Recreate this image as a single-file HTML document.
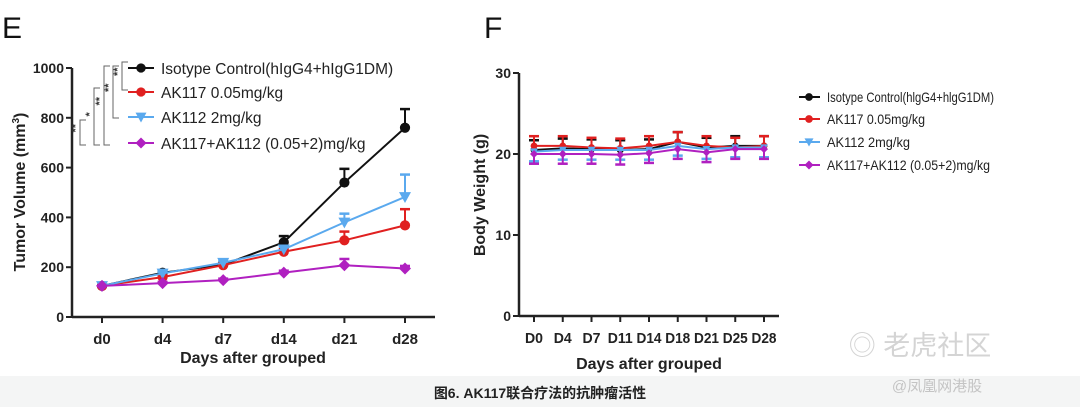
<!DOCTYPE html>
<html><head><meta charset="utf-8"><style>
body{margin:0;width:1080px;height:407px;overflow:hidden;background:#fff;font-family:"Liberation Sans","Noto Sans CJK SC",sans-serif}
</style></head><body>
<svg id="s" width="1080" height="407" xmlns="http://www.w3.org/2000/svg" font-family="Liberation Sans, Noto Sans CJK SC, sans-serif">
<rect x="0" y="376" width="1080" height="31" fill="#f4f5f5"/>
<text x="540" y="398" text-anchor="middle" font-size="14" font-weight="bold" fill="#222">图6. AK117联合疗法的抗肿瘤活性</text>
<text x="2" y="38" font-size="30" fill="#111">E</text>
<text x="484" y="38" font-size="30" fill="#111">F</text>
<text x="920" y="355" text-anchor="middle" font-size="27" fill="#d4d4d4">◎ 老虎社区</text>
<text x="937" y="391" text-anchor="middle" font-size="15" fill="#c4c4c4">@凤凰网港股</text>
<g id="gE"></g><g id="gF"></g>
</svg>
<script>
const colors=["#111","#e02020","#5aa9ee","#b020c0"];
const names=["Isotype Control(hIgG4+hIgG1DM)","AK117 0.05mg/kg","AK112 2mg/kg","AK117+AK112 (0.05+2)mg/kg"];
const namesF=["Isotype Control(hlgG4+hlgG1DM)","AK117 0.05mg/kg","AK112  2mg/kg","AK117+AK112 (0.05+2)mg/kg"];
const legendWidthsF=[167,98,83,163];
const catE=["d0","d4","d7","d14","d21","d28"];
const eCtrl=[125,178,210,300,540,760];
const eAK117=[125,160,208,262,308,368];
const eAK112=[125,175,218,272,380,482];
const eCombo=[125,136,148,178,208,195];
const errE=[[0,8,8,25,55,75],[0,6,8,10,35,65],[0,6,8,10,35,90],[0,5,6,8,25,10]];
const ticksE=[0,200,400,600,800,1000];
const catF=["D0","D4","D7","D11","D14","D18","D21","D25","D28"];
const fCtrl=[20.5,20.7,20.6,20.5,20.6,21.5,20.8,21.0,21.0];
const fAK117=[21.0,21.0,20.8,20.7,21.0,21.5,21.0,20.8,21.0];
const fAK112=[20.3,20.5,20.5,20.5,20.5,21.0,20.6,20.8,20.8];
const fCombo=[20.0,20.0,20.0,19.9,20.1,20.6,20.2,20.6,20.6];
const errF=1.2;
const ticksF=[0,10,20,30];
const NS="http://www.w3.org/2000/svg";
function el(p,t,a,txt){const e=document.createElementNS(NS,t);for(const k in a)e.setAttribute(k,a[k]);if(txt!=null)e.textContent=txt;p.appendChild(e);return e;}
function marker(g,shape,x,y,c,r){
 if(shape==="d")return el(g,"polygon",{points:`${x},${y-r} ${x+r},${y} ${x},${y+r} ${x-r},${y}`,fill:c});
 if(shape==="v")return el(g,"polygon",{points:`${x-r},${y-r*0.8} ${x+r},${y-r*0.8} ${x},${y+r}`,fill:c});
 return el(g,"circle",{cx:x,cy:y,r:r*0.85,fill:c});
}
const shapes=["o","o","v","d"];
// Panel E
(function(){
 const g=document.getElementById("gE");
 const x0=72,x1=435,y0=317,y1=68;
 const xs=i=>102+i*(405-102)/5;
 const ys=v=>y0-(v/1000)*(y0-y1);
 el(g,"line",{x1:x0,y1:y1,x2:x0,y2:y0,stroke:"#222","stroke-width":2.5});
 el(g,"line",{x1:x0,y1:y0,x2:x1,y2:y0,stroke:"#222","stroke-width":2.5});
 ticksE.forEach(t=>{el(g,"line",{x1:x0-6,y1:ys(t),x2:x0,y2:ys(t),stroke:"#222","stroke-width":2});
  const tx=el(g,"text",{x:x0-8,y:ys(t)+5,"text-anchor":"end","font-size":14,"font-weight":"bold",fill:"#222"},t);
  });
 catE.forEach((c,i)=>{el(g,"line",{x1:xs(i),y1:y0,x2:xs(i),y2:y0+6,stroke:"#222","stroke-width":2});
  const tx=el(g,"text",{x:xs(i),y:y0+27,"text-anchor":"middle","font-size":15,"font-weight":"bold",fill:"#222"},c);
  });
 el(g,"text",{x:253,y:363,"text-anchor":"middle","font-size":16,"font-weight":"bold",fill:"#222",},"Days after grouped");
 const yt=el(g,"text",{x:0,y:0,"text-anchor":"middle","font-size":16,"font-weight":"bold",fill:"#222",transform:"translate(25,192) rotate(-90)",},"Tumor Volume (mm");
 el(yt,"tspan",{dy:-6,"font-size":10},"3");el(yt,"tspan",{dy:6},")");
 const series=[eCtrl,eAK117,eAK112,eCombo];
 series.forEach((s,k)=>{
  const sg=el(g,"g",{});
  
  
  errE[k].forEach((e,i)=>{if(e>0){el(sg,"line",{x1:xs(i),y1:ys(s[i]),x2:xs(i),y2:ys(s[i]+e),stroke:colors[k],"stroke-width":2});
   el(sg,"line",{x1:xs(i)-5,y1:ys(s[i]+e),x2:xs(i)+5,y2:ys(s[i]+e),stroke:colors[k],"stroke-width":2.5});}});
  el(sg,"polyline",{points:s.map((v,i)=>xs(i)+","+ys(v)).join(" "),fill:"none",stroke:colors[k],"stroke-width":2});
  s.forEach((v,i)=>{const m=marker(sg,shapes[k],xs(i),ys(v),colors[k],6);
   });
 });
 const legY=[68,92,117,143];
 names.forEach((n,k)=>{const y=legY[k];
  const lg=el(g,"g",{});
  
  
  el(lg,"line",{x1:128,y1:y,x2:154,y2:y,stroke:colors[k],"stroke-width":2});
  marker(lg,shapes[k],141,y,colors[k],5.5);
  el(lg,"text",{x:161,y:y+6,"font-size":15.5,fill:"#222"},n);});
 const br=[[80,120,145,"**"],[94,88,145,"*"],[104,66,145,"**"],[113,66,118,"**"],[122,62,90,"**"]];
 br.forEach(b=>{const bg=el(g,"g",{fill:"none",stroke:"#666","stroke-width":1});
  
  el(bg,"polyline",{points:`${b[0]+6},${b[1]} ${b[0]},${b[1]} ${b[0]},${b[2]} ${b[0]+6},${b[2]}`});
  el(g,"text",{x:b[0]-5,y:(b[1]+b[2])/2+4,"font-size":11,"font-weight":"bold",fill:"#333",transform:`rotate(-90 ${b[0]-5} ${(b[1]+b[2])/2})`},b[3]);});
})();
// Panel F
(function(){
 const g=document.getElementById("gF");
 const x0=519,x1=779,y0=316,y1=73;
 const xs=i=>534+i*(764-534)/8;
 const ys=v=>y0-(v/30)*(y0-y1);
 el(g,"line",{x1:x0,y1:y1,x2:x0,y2:y0,stroke:"#222","stroke-width":2.5});
 el(g,"line",{x1:x0,y1:y0,x2:x1,y2:y0,stroke:"#222","stroke-width":2.5});
 ticksF.forEach(t=>{el(g,"line",{x1:x0-6,y1:ys(t),x2:x0,y2:ys(t),stroke:"#222","stroke-width":2});
  const tx=el(g,"text",{x:x0-8,y:ys(t)+5,"text-anchor":"end","font-size":14,"font-weight":"bold",fill:"#222"},t);
  });
 catF.forEach((c,i)=>{el(g,"line",{x1:xs(i),y1:y0,x2:xs(i),y2:y0+6,stroke:"#222","stroke-width":2});
  const tx=el(g,"text",{x:xs(i),y:y0+27,"text-anchor":"middle","font-size":15,"font-weight":"bold",fill:"#222",textLength:c.length>2?25:18,lengthAdjust:"spacingAndGlyphs"},c);
  });
 el(g,"text",{x:649,y:369,"text-anchor":"middle","font-size":16,"font-weight":"bold",fill:"#222",},"Days after grouped");
 el(g,"text",{x:0,y:0,"text-anchor":"middle","font-size":16,"font-weight":"bold",fill:"#222",transform:"translate(485,195) rotate(-90)",},"Body Weight (g)");
 [fCtrl,fAK117,fAK112,fCombo].forEach((s,k)=>{
  const sg=el(g,"g",{});
  
  
  s.forEach((v,i)=>{const d=k===1||k===0?1:-1;
   el(sg,"line",{x1:xs(i),y1:ys(v),x2:xs(i),y2:ys(v+d*errF),stroke:colors[k],"stroke-width":2});
   el(sg,"line",{x1:xs(i)-5,y1:ys(v+d*errF),x2:xs(i)+5,y2:ys(v+d*errF),stroke:colors[k],"stroke-width":2.5});});
  el(sg,"polyline",{points:s.map((v,i)=>xs(i)+","+ys(v)).join(" "),fill:"none",stroke:colors[k],"stroke-width":2});
  s.forEach((v,i)=>{const m=marker(sg,shapes[k],xs(i),ys(v),colors[k],4);
   });
 });
 const legYF=[97,119,142,165];
 namesF.forEach((n,k)=>{const y=legYF[k];
  const lg=el(g,"g",{});
  
  
  el(lg,"line",{x1:799,y1:y,x2:820,y2:y,stroke:colors[k],"stroke-width":2});
  marker(lg,shapes[k],809,y,colors[k],4.5);
  el(lg,"text",{x:827,y:y+5,"font-size":14,fill:"#222",textLength:legendWidthsF[k],lengthAdjust:"spacingAndGlyphs"},n);});
})();
</script>
</body></html>
